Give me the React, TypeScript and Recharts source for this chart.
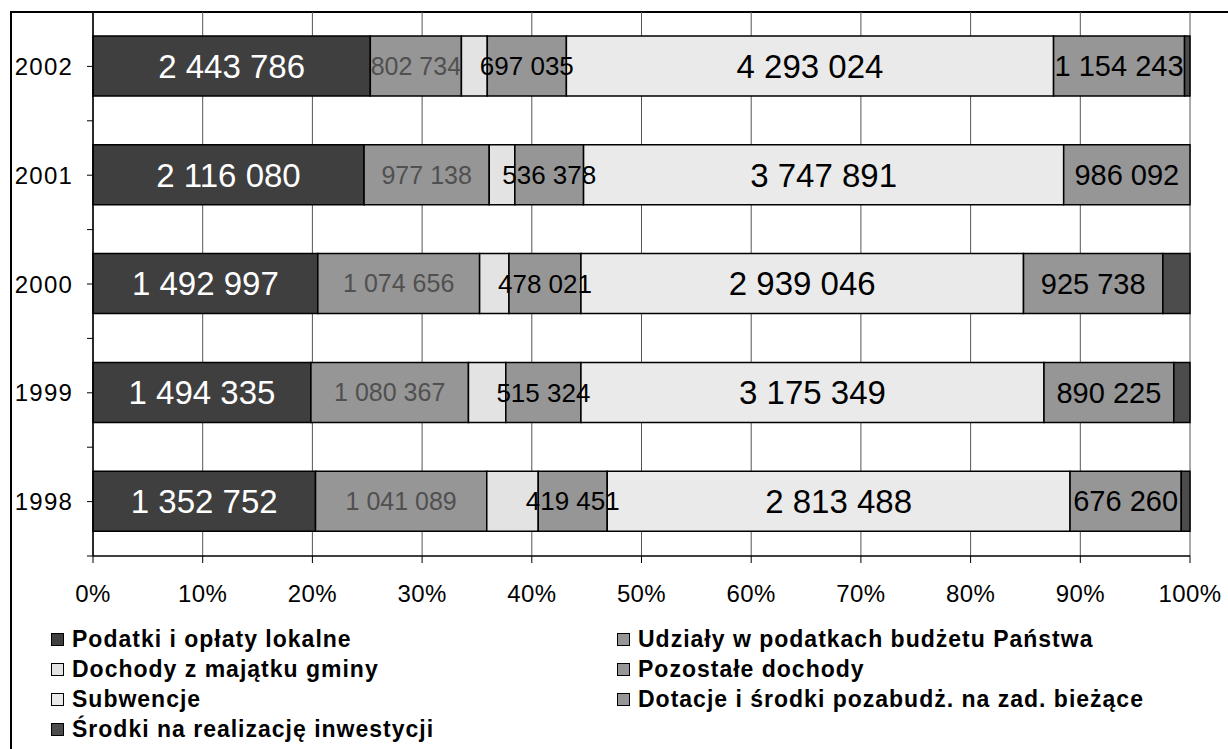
import { BarChart, Bar, XAxis, YAxis, CartesianGrid, LabelList, Legend } from 'recharts'

const YEARS = ['2002', '2001', '2000', '1999', '1998']
const PODATKI = [2443786, 2116080, 1492997, 1494335, 1352752]
const UDZIALY = [802734, 977138, 1074656, 1080367, 1041089]
// no labels in the source for these two
const MAJATEK = [228000, 200000, 195000, 256000, 313000]
const POZOSTALE = [697035, 536378, 478021, 515324, 419451]
const SUBWENCJE = [4293024, 3747891, 2939046, 3175349, 2813488]
const DOTACJE = [1154243, 986092, 925738, 890225, 676260]
const INWESTYCJE = [48000, 0, 180000, 111000, 53000]
const X_TICKS = [0, 0.1, 0.2, 0.3, 0.4, 0.5, 0.6, 0.7, 0.8, 0.9, 1]

const FONT = '"Liberation Sans", Arial, sans-serif'
const W = 1228
const H = 749
const MARGIN = { top: 12, right: 38, left: 0, bottom: 153 }
const X_AXIS_H = 40
const PLOT_H = H - MARGIN.top - MARGIN.bottom - X_AXIS_H
const BAND = PLOT_H / YEARS.length

const data = YEARS.map((year, i) => ({
  year,
  podatki: PODATKI[i],
  udzialy: UDZIALY[i],
  majatek: MAJATEK[i],
  pozostale: POZOSTALE[i],
  subwencje: SUBWENCJE[i],
  dotacje: DOTACJE[i],
  inwestycje: INWESTYCJE[i],
}))

type Series = {
  key: string
  name: string
  color: string
  label?: { fill: string; size: number }
}

const SERIES: Series[] = [
  { key: 'podatki', name: 'Podatki i opłaty lokalne', color: '#3f3f3f', label: { fill: '#ffffff', size: 33 } },
  { key: 'udzialy', name: 'Udziały w podatkach budżetu Państwa', color: '#969696', label: { fill: '#505050', size: 25 } },
  { key: 'majatek', name: 'Dochody z majątku gminy', color: '#e3e3e3' },
  { key: 'pozostale', name: 'Pozostałe dochody', color: '#969696', label: { fill: '#000000', size: 26 } },
  { key: 'subwencje', name: 'Subwencje', color: '#eaeaea', label: { fill: '#000000', size: 33 } },
  { key: 'dotacje', name: 'Dotacje i środki pozabudż. na zad. bieżące', color: '#969696', label: { fill: '#000000', size: 29 } },
  { key: 'inwestycje', name: 'Środki na realizację inwestycji', color: '#4c4c4c' },
]

const fmt = (v: any) => String(v).replace(/\B(?=(\d{3})+(?!\d))/g, ' ')

const TICK_SIZE = 6
const TICK_MARGIN = 14

function YearTick(props: any) {
  const { x, y, payload, index } = props
  const axisX = x + TICK_SIZE + TICK_MARGIN
  const half = BAND / 2
  return (
    <g>
      <line x1={axisX - TICK_SIZE} x2={axisX} y1={y} y2={y} stroke="#000" />
      <line x1={axisX - TICK_SIZE} x2={axisX} y1={y + half} y2={y + half} stroke="#000" />
      {index === 0 && <line x1={axisX - TICK_SIZE} x2={axisX} y1={y - half} y2={y - half} stroke="#000" />}
      <text x={x} y={y} dy="0.36em" textAnchor="end" fontSize={24} letterSpacing={1.2} fill="#000" fontFamily={FONT}>
        {payload.value}
      </text>
    </g>
  )
}

// legend keeps the series order (row by row, two columns)
function LegendBox(props: any) {
  const byName: Record<string, string> = {}
  ;(props.payload || []).forEach((p: any) => { byName[p.value] = p.color })
  return (
    <div style={{ display: 'grid', gridTemplateColumns: '566px 580px', gridAutoRows: '30px', paddingLeft: 51, fontFamily: FONT }}>
      {SERIES.map(s => (
        <div key={s.key} style={{ display: 'flex', alignItems: 'center' }}>
          <span style={{ width: 11, height: 11, border: '1px solid #000', background: byName[s.name] || s.color, marginRight: 8, flex: 'none' }} />
          <span style={{ fontSize: 23, fontWeight: 700, letterSpacing: 1, color: '#000', whiteSpace: 'nowrap' }}>{s.name}</span>
        </div>
      ))}
    </div>
  )
}

export default function App() {
  return (
    <div style={{ position: 'absolute', left: 0, top: 0, width: W, height: H, overflow: 'hidden', background: '#fff' }}>
      <div style={{ position: 'absolute', left: 10, top: 11, width: 1400, height: 900, borderLeft: '2px solid #000', borderTop: '2px solid #000' }} />
      <div style={{ position: 'absolute', left: 0, top: 0 }}>
        <BarChart width={W} height={H} data={data} layout="vertical" stackOffset="expand" barSize={60} margin={MARGIN}>
          <CartesianGrid horizontal={false} stroke="#555" strokeOpacity={1} />
          <XAxis
            type="number"
            domain={[0, 1]}
            ticks={X_TICKS}
            tickFormatter={(v: number) => `${Math.round(v * 100)}%`}
            height={X_AXIS_H}
            tickSize={7}
            tickMargin={22}
            axisLine={{ stroke: '#000', strokeWidth: 1.5 }}
            tickLine={{ stroke: '#000' }}
            tick={{ fill: '#000', fontSize: 24, fontFamily: FONT, letterSpacing: 0.4 }}
            interval={0}
          />
          <YAxis
            type="category"
            dataKey="year"
            width={93}
            tickSize={TICK_SIZE}
            tickMargin={TICK_MARGIN}
            tickLine={false}
            axisLine={{ stroke: '#000', strokeWidth: 1.5 }}
            tick={<YearTick />}
            interval={0}
          />
          {SERIES.map(s => (
            <Bar key={s.key} dataKey={s.key} name={s.name} stackId="a" fill={s.color} stroke="#000" strokeWidth={1.5} isAnimationActive={false}>
              {s.label && (
                <LabelList
                  dataKey={s.key}
                  position="center"
                  formatter={fmt}
                  fill={s.label.fill}
                  fontSize={s.label.size}
                  fontFamily={FONT}
                />
              )}
            </Bar>
          ))}
          <Legend
            layout="horizontal"
            verticalAlign="middle"
            align="center"
            wrapperStyle={{ left: 0, top: 624, width: W }}
            content={<LegendBox />}
          />
        </BarChart>
      </div>
    </div>
  )
}
